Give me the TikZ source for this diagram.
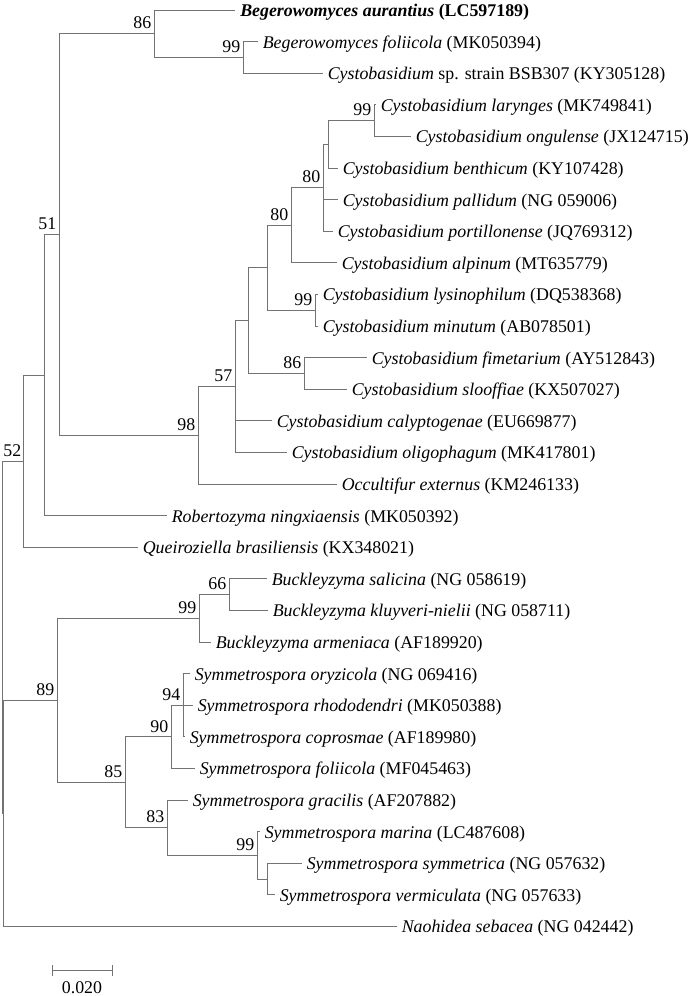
\documentclass[tikz,border=0pt]{standalone}
\usepackage{fontspec}
\setmainfont{Liberation Serif}
\usepackage{xcolor}

\tikzset{
  branch/.style={draw=black!55, line width=0.75pt},
  taxon/.style={anchor=base west, inner sep=0pt},
  boot/.style={anchor=base east, inner sep=0pt},
}

\begin{document}
\begin{tikzpicture}[x=0.75pt,y=0.75pt,yscale=-1,xscale=1,font=\fontsize{13.4}{16}\selectfont]
    \useasboundingbox (0,0) rectangle (688,996);

    %Internal nodes
    \coordinate (root) at (2,637.2);
    \coordinate (n52) at (23,461.1);
    \coordinate (nrob) at (44,375);
    \coordinate (n51) at (59,234.5);
    \coordinate (n86a) at (154,33.7);
    \coordinate (n99a) at (243,57.4);
    \coordinate (n98) at (198,435.2);
    \coordinate (n57) at (235,386.5);
    \coordinate (ncys) at (248,320.6);
    \coordinate (nlys) at (267,267.7);
    \coordinate (n80b) at (291,225.3);
    \coordinate (n80a) at (323,187.75);
    \coordinate (nben) at (328,144.3);
    \coordinate (n99b) at (374,120.6);
    \coordinate (n99c) at (315,310.2);
    \coordinate (n86b) at (304,373.4);
    \coordinate (nnao) at (3.3,813.3);
    \coordinate (n89) at (57,700.2);
    \coordinate (n99d) at (199,618.3);
    \coordinate (n66) at (229,594.6);
    \coordinate (n85) at (125,782.2);
    \coordinate (n90) at (171,736.8);
    \coordinate (n94) at (183,705.2);
    \coordinate (n83) at (167,827.65);
    \coordinate (n99e) at (257,855.3);
    \coordinate (nsym) at (267,879);

    %Leaf tips
    \coordinate (t0) at (235,10);
    \coordinate (t1) at (258,41.6);
    \coordinate (t2) at (323,73.2);
    \coordinate (t3) at (376,104.8);
    \coordinate (t4) at (411,136.4);
    \coordinate (t5) at (338,168);
    \coordinate (t6) at (338,199.6);
    \coordinate (t7) at (333,231.2);
    \coordinate (t8) at (337,262.8);
    \coordinate (t9) at (318,294.4);
    \coordinate (t10) at (318,326);
    \coordinate (t11) at (367,357.6);
    \coordinate (t12) at (347,389.2);
    \coordinate (t13) at (272,420.8);
    \coordinate (t14) at (287,452.4);
    \coordinate (t15) at (337,484);
    \coordinate (t16) at (167,515.6);
    \coordinate (t17) at (138,547.2);
    \coordinate (t18) at (267,578.8);
    \coordinate (t19) at (268,610.4);
    \coordinate (t20) at (211,642);
    \coordinate (t21) at (190,673.6);
    \coordinate (t22) at (193,705.2);
    \coordinate (t23) at (185,736.8);
    \coordinate (t24) at (195,768.4);
    \coordinate (t25) at (188,800);
    \coordinate (t26) at (260,831.6);
    \coordinate (t27) at (302,863.2);
    \coordinate (t28) at (275,894.8);
    \coordinate (t29) at (397,926.4);

    %Branches
    \draw[branch] (root) |- (n52) (root) |- (nnao);
    \draw[branch] (n52) |- (nrob) (n52) |- (t17);
    \draw[branch] (nrob) |- (n51) (nrob) |- (t16);
    \draw[branch] (n51) |- (n86a) (n51) |- (n98);
    \draw[branch] (n86a) |- (t0) (n86a) |- (n99a);
    \draw[branch] (n99a) |- (t1) (n99a) |- (t2);
    \draw[branch] (n98) |- (n57) (n98) |- (t15);
    \draw[branch] (n57) |- (ncys) (n57) |- (t13) (n57) |- (t14);
    \draw[branch] (ncys) |- (nlys) (ncys) |- (n86b);
    \draw[branch] (nlys) |- (n80b) (nlys) |- (n99c);
    \draw[branch] (n80b) |- (n80a) (n80b) |- (t8);
    \draw[branch] (n80a) |- (nben) (n80a) |- (t6) (n80a) |- (t7);
    \draw[branch] (nben) |- (n99b) (nben) |- (t5);
    \draw[branch] (n99b) |- (t3) (n99b) |- (t4);
    \draw[branch] (n99c) |- (t9) (n99c) |- (t10);
    \draw[branch] (n86b) |- (t11) (n86b) |- (t12);
    \draw[branch] (nnao) |- (n89) (nnao) |- (t29);
    \draw[branch] (n89) |- (n99d) (n89) |- (n85);
    \draw[branch] (n99d) |- (n66) (n99d) |- (t20);
    \draw[branch] (n66) |- (t18) (n66) |- (t19);
    \draw[branch] (n85) |- (n90) (n85) |- (n83);
    \draw[branch] (n90) |- (n94) (n90) |- (t24);
    \draw[branch] (n94) |- (t21) (n94) |- (t22) (n94) |- (t23);
    \draw[branch] (n83) |- (t25) (n83) |- (n99e);
    \draw[branch] (n99e) |- (t26) (n99e) |- (nsym);
    \draw[branch] (nsym) |- (t27) (nsym) |- (t28);

    % Text Node
    \path (t0) ++(5,6.5) node[taxon] (l0) {\textbf{\textit{Begerowomyces aurantius} (LC597189)}};
    \path (t1) ++(4.5,6.5) node[taxon] (l1) {\textit{Begerowomyces foliicola} (MK050394)};
    \path (t2) ++(4.5,6.5) node[taxon] (l2) {\textit{Cystobasidium} sp. strain BSB307 (KY305128)};
    \path (t3) ++(4.5,6.5) node[taxon] (l3) {\textit{Cystobasidium larynges} (MK749841)};
    \path (t4) ++(4.5,6.5) node[taxon] (l4) {\textit{Cystobasidium ongulense} (JX124715)};
    \path (t5) ++(4.5,6.5) node[taxon] (l5) {\textit{Cystobasidium benthicum} (KY107428)};
    \path (t6) ++(4.5,6.5) node[taxon] (l6) {\textit{Cystobasidium pallidum} (NG 059006)};
    \path (t7) ++(4.5,6.5) node[taxon] (l7) {\textit{Cystobasidium portillonense} (JQ769312)};
    \path (t8) ++(4.5,6.5) node[taxon] (l8) {\textit{Cystobasidium alpinum} (MT635779)};
    \path (t9) ++(4.5,6.5) node[taxon] (l9) {\textit{Cystobasidium lysinophilum} (DQ538368)};
    \path (t10) ++(4.5,6.5) node[taxon] (l10) {\textit{Cystobasidium minutum} (AB078501)};
    \path (t11) ++(4.5,6.5) node[taxon] (l11) {\textit{Cystobasidium fimetarium} (AY512843)};
    \path (t12) ++(4.5,6.5) node[taxon] (l12) {\textit{Cystobasidium slooffiae} (KX507027)};
    \path (t13) ++(4.5,6.5) node[taxon] (l13) {\textit{Cystobasidium calyptogenae} (EU669877)};
    \path (t14) ++(4.5,6.5) node[taxon] (l14) {\textit{Cystobasidium oligophagum} (MK417801)};
    \path (t15) ++(4.5,6.5) node[taxon] (l15) {\textit{Occultifur externus} (KM246133)};
    \path (t16) ++(4.5,6.5) node[taxon] (l16) {\textit{Robertozyma ningxiaensis} (MK050392)};
    \path (t17) ++(4.5,6.5) node[taxon] (l17) {\textit{Queiroziella brasiliensis} (KX348021)};
    \path (t18) ++(4.5,6.5) node[taxon] (l18) {\textit{Buckleyzyma salicina} (NG 058619)};
    \path (t19) ++(4.5,6.5) node[taxon] (l19) {\textit{Buckleyzyma kluyveri-nielii} (NG 058711)};
    \path (t20) ++(4.5,6.5) node[taxon] (l20) {\textit{Buckleyzyma armeniaca} (AF189920)};
    \path (t21) ++(4.5,6.5) node[taxon] (l21) {\textit{Symmetrospora oryzicola} (NG 069416)};
    \path (t22) ++(4.5,6.5) node[taxon] (l22) {\textit{Symmetrospora rhododendri} (MK050388)};
    \path (t23) ++(4.5,6.5) node[taxon] (l23) {\textit{Symmetrospora coprosmae} (AF189980)};
    \path (t24) ++(4.5,6.5) node[taxon] (l24) {\textit{Symmetrospora foliicola} (MF045463)};
    \path (t25) ++(4.5,6.5) node[taxon] (l25) {\textit{Symmetrospora gracilis} (AF207882)};
    \path (t26) ++(4.5,6.5) node[taxon] (l26) {\textit{Symmetrospora marina} (LC487608)};
    \path (t27) ++(4.5,6.5) node[taxon] (l27) {\textit{Symmetrospora symmetrica} (NG 057632)};
    \path (t28) ++(4.5,6.5) node[taxon] (l28) {\textit{Symmetrospora vermiculata} (NG 057633)};
    \path (t29) ++(4.5,6.5) node[taxon] (l29) {\textit{Naohidea sebacea} (NG 042442)};

    % Bootstrap values
    \path (n86a) ++(-2.5,-4.8) node[boot] (b86a) {86};
    \path (n99a) ++(-2.5,-4.8) node[boot] (b99a) {99};
    \path (n51) ++(-2.5,-4.8) node[boot] (b51) {51};
    \path (n52) ++(-1.5,-4.8) node[boot] (b52) {52};
    \path (n98) ++(-2.5,-4.8) node[boot] (b98) {98};
    \path (n57) ++(-2.5,-4.8) node[boot] (b57) {57};
    \path (n80b) ++(-2.5,-4.8) node[boot] (b80b) {80};
    \path (n80a) ++(-2.5,-4.8) node[boot] (b80a) {80};
    \path (n99b) ++(-2.5,-4.8) node[boot] (b99b) {99};
    \path (n99c) ++(-2.5,-4.8) node[boot] (b99c) {99};
    \path (n86b) ++(-2.5,-4.8) node[boot] (b86b) {86};
    \path (n99d) ++(-2.5,-4.8) node[boot] (b99d) {99};
    \path (n66) ++(-2.5,-4.8) node[boot] (b66) {66};
    \path (n89) ++(-2.5,-4.8) node[boot] (b89) {89};
    \path (n94) ++(-2.5,-4.8) node[boot] (b94) {94};
    \path (n90) ++(-2.5,-4.8) node[boot] (b90) {90};
    \path (n85) ++(-2.5,-4.8) node[boot] (b85) {85};
    \path (n83) ++(-2.5,-4.8) node[boot] (b83) {83};
    \path (n99e) ++(-2.5,-4.8) node[boot] (b99e) {99};

    %Scale bar
    \coordinate (sbl) at (52,970.5);
    \coordinate (sbr) at (112,970.5);
    \draw[branch] (sbl) -- (sbr);
    \draw[branch] (sbl) ++(0,-5.5) -- ++(0,11) (sbr) ++(0,-5.5) -- ++(0,11);
    \node[anchor=base, inner sep=0pt] (sblabel) at (82,993) {0.020};

\end{tikzpicture}
\end{document}
